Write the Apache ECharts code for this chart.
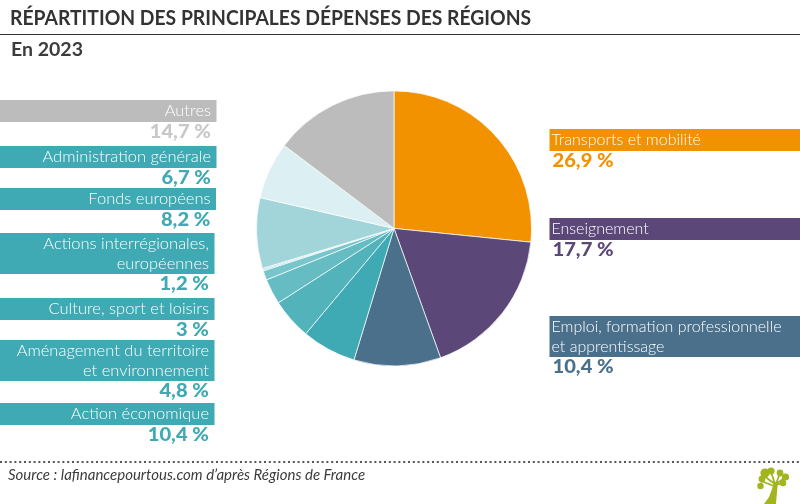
<!DOCTYPE html>
<html>
<head>
<meta charset="utf-8">
<title>Répartition des principales dépenses des régions</title>
<script src="https://cdn.jsdelivr.net/npm/echarts@6/dist/echarts.min.js"></script>
<style>
  html, body { margin: 0; padding: 0; background: #fff; }
  #main { width: 800px; height: 504px; }
</style>
</head>
<body>
<div id="main"></div>
<script>
var sliceNames = ['Transports et mobilité', 'Enseignement', 'Emploi, formation professionnelle et apprentissage',
    'Action économique', 'Aménagement du territoire et environnement', 'Culture, sport et loisirs',
    'Actions interrégionales, européennes', 'Autre 1', 'Autre 2', 'Fonds européens', 'Administration générale', 'Autres'];
var sliceValues = [26.6, 17.9, 10.2, 6.4, 4.8, 3, 1.1, 0.15, 0.15, 8.3, 6.7, 14.7];
var sliceColors = ['#f39200', '#5b4778', '#4a708c', '#3faab4', '#52b3bb', '#65bcc3',
    '#78c5cb', '#8ccdd2', '#97d1d6', '#a1d5da', '#dceff2', '#bcbcbc'];

var leftLabels = [['Autres'], ['Administration générale'], ['Fonds européens'],
    ['Actions interrégionales,', 'européennes'], ['Culture, sport et loisirs'],
    ['Aménagement du territoire', 'et environnement'], ['Action économique']];
var leftValues = ['14,7 %', '6,7 %', '8,2 %', '1,2 %', '3 %', '4,8 %', '10,4 %'];
var rightLabels = [['Transports et mobilité'], ['Enseignement'], ['Emploi, formation professionnelle', 'et apprentissage']];
var rightValues = ['26,9 %', '17,7 %', '10,4 %'];

var FONT = 'Lato, "Noto Sans", sans-serif';
var TEAL = '#3faab4';
var graphics = [];

function txt(x, y, s, size, weight, color, align, style, sx) {
    graphics.push({
        type: 'text', x: x, y: y, silent: true, scaleX: sx || 1,
        style: {
            text: s, fill: color, align: align || 'left', verticalAlign: 'middle',
            font: (style || 'normal') + ' ' + weight + ' ' + size + 'px ' + FONT
        }
    });
}

// coloured band with its text, then the big percentage below it
function band(x, w, y, lines, value, color, valueColor, align, pad) {
    var h = lines.length > 1 ? 41 : 22;
    graphics.push({ type: 'rect', silent: true, shape: { x: x, y: y, width: w, height: h }, style: { fill: color } });
    var tx = align === 'right' ? x + w - pad : x + 2;
    lines.forEach(function (l, i) {
        txt(tx, y + 11 + i * 20, l, 16.5, 300, '#fff', align, 'normal', align === 'right' ? 1 : 0.97);
    });
    txt(align === 'right' ? x + w - pad : x + 3, y + h + 10, value, 19, 900, valueColor, align, 'normal', 1.06);
}

var leftTops = [100, 146, 188, 233, 298, 340, 403];
var leftWidths = [216.5, 216.5, 216, 214.5, 214.5, 214.5, 214.5];
leftLabels.forEach(function (l, i) {
    band(0, leftWidths[i], leftTops[i], l, leftValues[i], i === 0 ? '#bcbcbc' : TEAL, i === 0 ? '#c8c8c8' : TEAL, 'right', 5.5);
});
var rightTops = [129, 218, 316];
var rightColors = ['#f39200', '#5b4778', '#4a708c'];
rightLabels.forEach(function (l, i) {
    band(549.5, 250.5, rightTops[i], l, rightValues[i], rightColors[i], rightColors[i], 'left', 0);
});

// header
txt(10, 18, 'RÉPARTITION DES PRINCIPALES DÉPENSES DES RÉGIONS', 21, 700, '#333333', 'left', 'normal', 0.92);
graphics.push({ type: 'line', silent: true, shape: { x1: 0, y1: 34.5, x2: 800, y2: 34.5 }, style: { stroke: '#333333', lineWidth: 1 } });
txt(11, 50, 'En 2023', 19.5, 700, '#3c3c3c');

// footer
graphics.push({ type: 'line', silent: true, shape: { x1: 0, y1: 462, x2: 800, y2: 462 }, style: { stroke: '#555555', lineWidth: 2, lineDash: [2, 2.8] } });
txt(8, 475, 'Source : lafinancepourtous.com d’après Régions de France', 15, 400, '#3c3c3c', 'left', 'italic');

// petit arbre du logo
var GREEN = '#a3b51d';
graphics.push({ type: 'polygon', silent: true, shape: { points: [[764, 504], [769, 497], [772, 489], [774, 482], [778, 482], [777, 492], [776, 504]] }, style: { fill: GREEN } });
[[775, 484, 764, 476], [775, 484, 771, 472], [776, 484, 780, 473], [776, 484, 786, 477], [776, 484, 783, 484], [774, 486, 761, 481]].forEach(function (b) {
    graphics.push({ type: 'line', silent: true, shape: { x1: b[0], y1: b[1], x2: b[2], y2: b[3] }, style: { stroke: GREEN, lineWidth: 1.8 } });
});
[[765, 473, 4.6], [771, 471, 3.6], [780, 473, 3.4], [785.5, 477, 3.6], [783, 483, 3.2], [762, 479, 3.4], [760.5, 486, 3.2]].forEach(function (c) {
    graphics.push({ type: 'circle', silent: true, shape: { cx: c[0], cy: c[1], r: c[2] }, style: { fill: GREEN } });
});

var myChart = echarts.init(document.getElementById('main'));
var option = {
    backgroundColor: '#fff',
    animation: false,
    graphic: graphics,
    series: [{
        type: 'pie',
        center: [394, 228.4],
        radius: [0, 137.5],
        startAngle: 90,
        clockwise: true,
        silent: true,
        label: { show: false },
        labelLine: { show: false },
        itemStyle: { borderColor: '#fff', borderWidth: 0.7 },
        data: sliceValues.map(function (v, i) {
            return { name: sliceNames[i], value: v, itemStyle: { color: sliceColors[i] } };
        })
    }]
};
myChart.setOption(option);
</script>
</body>
</html>
